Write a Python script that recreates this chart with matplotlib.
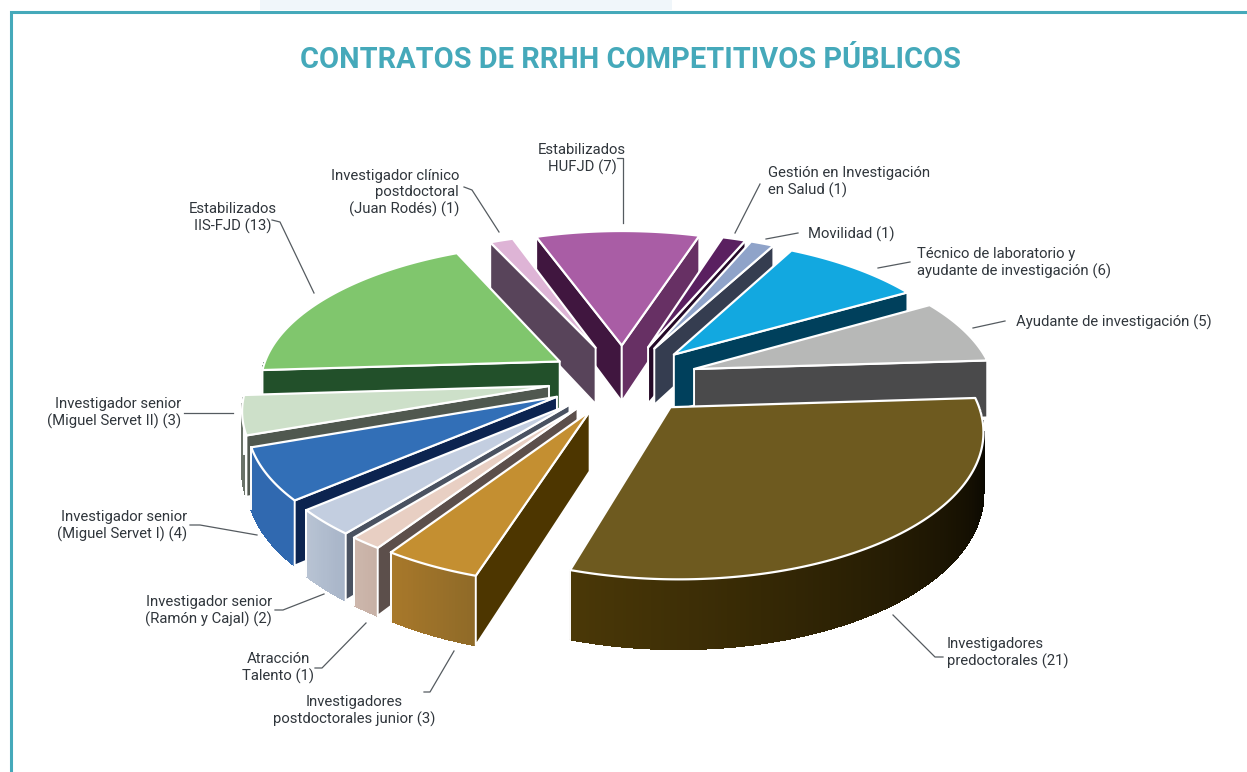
"""Pie 3D despiezado de contratos de RRHH, dibujado a mano con polígonos."""
import numpy as np
import matplotlib
matplotlib.use("Agg")
import matplotlib.pyplot as plt
from matplotlib.collections import PolyCollection
from matplotlib.colors import to_rgb
from matplotlib.patches import Polygon, Rectangle

TITLE = "CONTRATOS DE RRHH COMPETITIVOS PÚBLICOS"

# clockwise, starting with the slice centred on the top
NAMES = ["Estabilizados\nHUFJD (7)",
         "Gestión en Investigación\nen Salud (1)",
         "Movilidad (1)",
         "Técnico de laboratorio y\nayudante de investigación (6)",
         "Ayudante de investigación (5)",
         "Investigadores\npredoctorales (21)",
         "Investigadores\npostdoctorales junior (3)",
         "Atracción\nTalento (1)",
         "Investigador senior\n(Ramón y Cajal) (2)",
         "Investigador senior\n(Miguel Servet I) (4)",
         "Investigador senior\n(Miguel Servet II) (3)",
         "Estabilizados\nIIS-FJD (13)",
         "Investigador clínico\npostdoctoral\n(Juan Rodés) (1)"]
VALUES = [7, 1, 1, 6, 5, 21, 3, 1, 2, 4, 3, 13, 1]

TOP_COLORS = ["#a95da5", "#5a2060", "#8fa3c9", "#12a8e0", "#b7b8b7", "#6e5a1f", "#c48f31",
              "#e8cfc3", "#c3cee0", "#326fb7", "#cde0c9", "#80c66d", "#deb4d6"]
# wall along the first edge of the slice (clockwise order) and along the last one
FIRST_WALL = ["#40163f", "#250a28", "#353d50", "#00405c", "#4a4a4b", "#4a3807", "#4d3600",
              "#5c4f4b", "#4a5261", "#0c2450", "#50584f", "#22502a", "#58445a"]
LAST_WALL = ["#673064", "#250a28", "#353d50", "#00405c", "#4a4a4b", "#4a3807", "#4d3600",
             "#5c4f4b", "#4a5261", "#0c2450", "#50584f", "#22502a", "#58445a"]
ARC_FROM = ["#673064", "#5a2060", "#8fa3c9", "#00405c", "#4a4a4b", "#4a3807", "#a8782a",
            "#cdb6ab", "#b8c3d3", "#3069b0", "#6a7268", "#22502a", "#58445a"]
ARC_TO = ["#673064", "#5a2060", "#8fa3c9", "#00405c", "#4a4a4b", "#000000", "#8f6a28",
          "#c6b0a5", "#a7b4c8", "#3069b0", "#6a7268", "#22502a", "#58445a"]

# layout of the labels, in pixels: x, y, ha
LABEL_POS = [(582, 159, "center"), (768, 182, "left"), (808, 234, "left"), (917, 263, "left"),
             (1016, 322, "left"), (947, 653, "left"), (354, 711, "center"), (278, 668, "center"),
             (272, 611, "right"), (187, 526, "right"), (181, 413, "right"), (233, 218, "center"),
             (459, 193, "right")]
LEADERS = [[(623, 223), (623, 158), (617, 158)],
           [(735, 233), (760, 184)],
           [(766, 239), (798, 233)],
           [(878, 268), (910, 262)],
           [(973, 328), (1005, 321)],
           [(893, 615), (935, 657), (943, 657)],
           [(454, 651), (430, 692), (424, 692)],
           [(366, 623), (322, 668), (315, 668)],
           [(324, 594), (283, 610), (275, 610)],
           [(257, 535), (200, 525), (190, 525)],
           [(233, 413), (184, 413)],
           [(314, 293), (280, 222), (272, 220)],
           [(499, 232), (472, 190), (464, 187)]]

TEAL = "#45a9ba"
START = -19.5
CX, CY = 623, 379
RX, RY = 300, 139.2   # horizontal / vertical scale of the unit pie
PERSP = 0.1407        # perspective
EXPLODE = 0.25
DEPTH = 58


def project(x, y):
    s = 1 / (1 + PERSP * y)
    return CX + RX * x * s, CY - RY * y * s, s


def mix(c1, c2, t):
    a, b = np.array(to_rgb(c1)), np.array(to_rgb(c2))
    return tuple(a + (b - a) * t)


def wall_visible(apex, corner, other):
    # the wall hangs down from the edge: it shows if the top face lies on the other side
    e = np.subtract(corner, apex)
    f = np.subtract(other, apex)
    cross = e[0] * f[1] - e[1] * f[0]
    return (e[0] > 0 and cross < 0) or (e[0] < 0 and cross > 0)


def draw_slice(ax, a0, a1, i, z):
    mid = np.radians((a0 + a1) / 2)
    ox, oy = EXPLODE * np.sin(mid), EXPLODE * np.cos(mid)
    th = np.radians(np.linspace(a0, a1, max(int(a1 - a0) * 2, 6)))
    ax_pts, ay_pts, s_pts = project(ox + np.sin(th), oy + np.cos(th))
    px, py, ps = project(ox, oy)

    top = np.column_stack([ax_pts, ay_pts])
    low = np.column_stack([ax_pts, ay_pts + DEPTH * s_pts])
    apex = (px, py)
    apex_low = (px, py + DEPTH * ps)

    # outer wall with its gradient, only the part looking at us
    quads, cols = [], []
    for j in range(len(th) - 1):
        if np.cos((th[j] + th[j + 1]) / 2) < 0:
            quads.append([top[j], top[j + 1], low[j + 1], low[j]])
            cols.append(mix(ARC_TO[i], ARC_FROM[i], j / (len(th) - 2)))
    if quads:
        ax.add_collection(PolyCollection(quads, facecolors=cols, edgecolors=cols, linewidths=0.8,
                                         antialiaseds=False, zorder=z))
        if np.cos(th[0]) < 0:
            ax.plot(*zip(top[0], low[0]), color="white", lw=1.4, zorder=z + 0.1)
        if np.cos(th[-1]) < 0:
            ax.plot(*zip(top[-1], low[-1]), color="white", lw=1.4, zorder=z + 0.1)

    wall = dict(ec="white", lw=1.4, joinstyle="round", zorder=z + 0.2)
    if wall_visible(apex, top[0], top[-1]):
        ax.add_patch(Polygon([apex, top[0], low[0], apex_low], fc=FIRST_WALL[i], **wall))
    if wall_visible(apex, top[-1], top[0]):
        ax.add_patch(Polygon([apex, top[-1], low[-1], apex_low], fc=LAST_WALL[i], **wall))

    ax.add_patch(Polygon(np.vstack([[apex], top]), fc=TOP_COLORS[i], ec="white", lw=1.6,
                         joinstyle="round", zorder=z + 0.3))


fig = plt.figure(figsize=(12.47, 7.72), dpi=100)
ax = fig.add_axes([0, 0, 1, 1])
ax.set_xlim(0, 1247)
ax.set_ylim(772, 0)
ax.axis("off")

# frame
ax.add_patch(Rectangle((260, 0), 412, 10, fc="#f0f6fa", ec="none"))
ax.plot([1247, 11, 11], [11.5, 11.5, 772], color=TEAL, lw=2.2, solid_joinstyle="miter")

ax.text(630, 59.5, TITLE, ha="center", va="center", color=TEAL, fontsize=20.9, fontweight="bold",
        family=["Roboto", "DejaVu Sans"])

edges = START + np.cumsum([0] + VALUES) * 360 / sum(VALUES)

# back slices first
order = np.argsort([-np.cos(np.radians((edges[i] + edges[i + 1]) / 2)) for i in range(len(VALUES))])
for n, i in enumerate(order):
    draw_slice(ax, edges[i], edges[i + 1], i, 2 + n)

for pts in LEADERS:
    ax.plot(*zip(*pts), color="#555b60", lw=0.9, zorder=30)

for name, (x, y, ha) in zip(NAMES, LABEL_POS):
    ax.text(x, y, name, ha=ha, va="center", fontsize=10.7, color="#30363c", linespacing=1.2,
            family=["Roboto", "DejaVu Sans"], multialignment=ha, zorder=31)

fig.savefig("out.png", dpi=100)
